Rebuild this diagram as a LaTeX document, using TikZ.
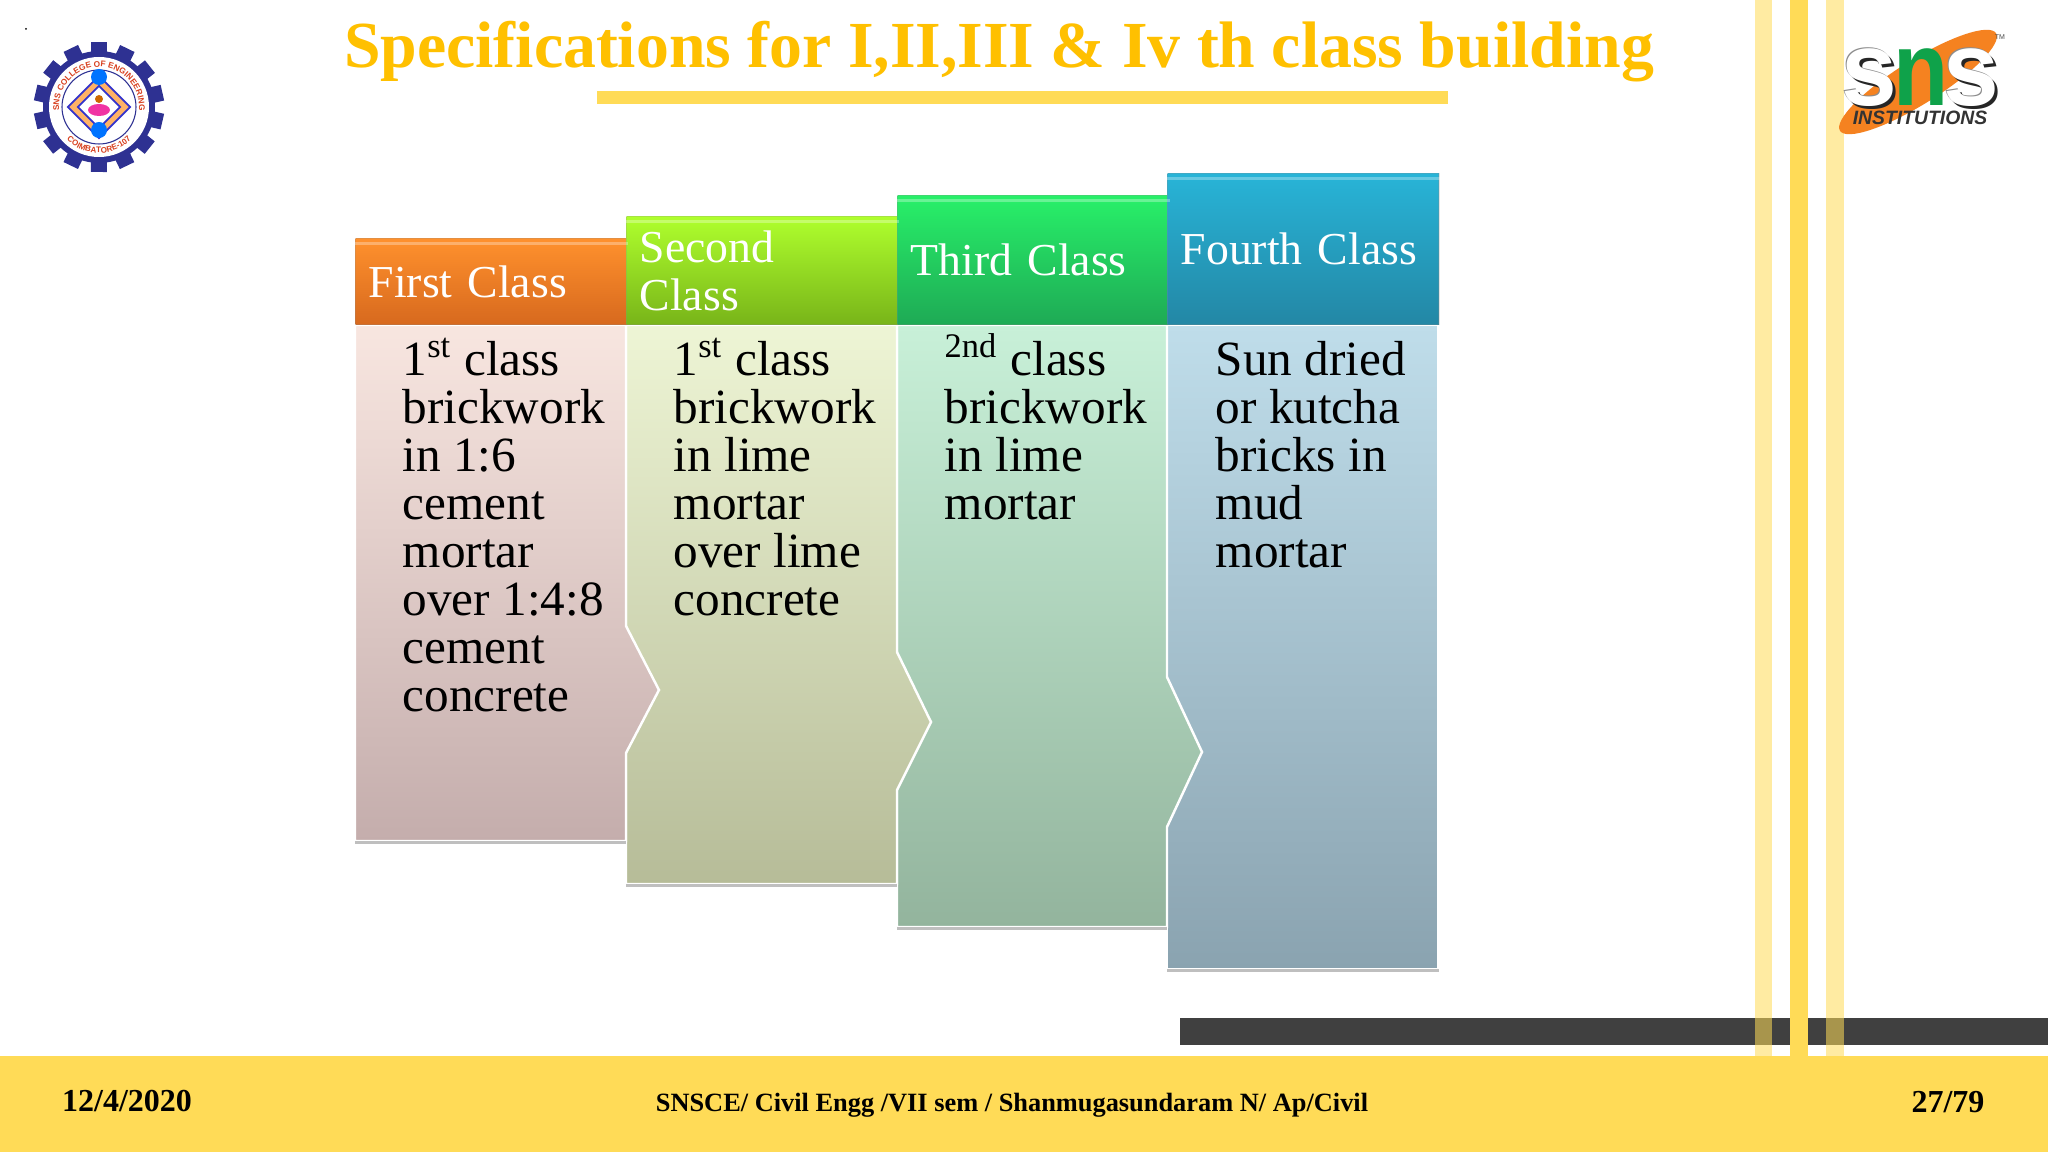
\documentclass[tikz,border=0pt]{standalone}
\usepackage{fontspec}
\usepackage{xcolor}
\usetikzlibrary{decorations.text}
\setmainfont{Liberation Serif}
\setsansfont{Liberation Sans}
\definecolor{slideyellow}{HTML}{FFDB57}
\definecolor{titlegold}{HTML}{FFC000}
\definecolor{gearblue}{HTML}{2E3192}
\definecolor{logored}{HTML}{D8401F}
\definecolor{snsorange}{HTML}{F58220}
\definecolor{snsgreen}{HTML}{0FA24A}
\newcommand{\bodyfont}{\fontsize{14pt}{13.65pt}\selectfont}
\newcommand{\headfont}{\fontsize{13pt}{13.6pt}\selectfont}
\newcommand{\ordinal}[1]{\smash{\textsuperscript{#1}}}

\begin{document}
\begin{tikzpicture}[x=0.01cm, y=-0.01cm,
    stripe/.style={fill=slideyellow, opacity=0.55},
    hdr/.style={anchor=north west, minimum width=2.71cm, text width=2.45cm,
                inner sep=0pt, inner xsep=0.13cm, align=left, text=white,
                font=\headfont, draw=white!55!black, draw opacity=0.25, line width=0.4pt},
    bodytxt/.style={anchor=north west, inner sep=0pt, align=left, font=\bodyfont, text=black,
                    execute at begin node=\rule{0pt}{11.5pt}},
    slab/.style={draw=white, line width=0.7pt, line join=miter},
    ledge/.style={fill=black!25},
    footer/.style={font=\fontsize{7.5pt}{8pt}\selectfont\bfseries, text=black},
    footnum/.style={font=\fontsize{9.1pt}{9pt}\selectfont\bfseries, text=black},
    snsletter/.style={anchor=base, font=\sffamily\bfseries\fontsize{30pt}{30pt}\selectfont, xscale=0.95, inner sep=0pt}]

    \useasboundingbox (0,0) rectangle (2048,1152);
    \fill[white] (0,0) rectangle (2048,1152);

    % --- Footer ---
    \fill[black!75] (1180,1018) rectangle (2048,1045);
    \fill[slideyellow] (0,1056) rectangle (2048,1152);
    \fill[stripe] (1755,0) rectangle (1772,1056);
    \fill[slideyellow] (1790,0) rectangle (1808,1056);
    \fill[stripe] (1826,0) rectangle (1844,1056);
    \node[footnum] (date) at (127,1101) {12/4/2020};
    \node[footer] (course) at (1012,1105) {SNSCE/ Civil Engg /VII sem / Shanmugasundaram N/ Ap/Civil};
    \node[footnum] (page) at (1948,1102) {27/79};

    % --- Title ---
    \node[font=\fontsize{18.7pt}{20pt}\selectfont\bfseries, text=titlegold] (title) at (999,52)
      {Specifications for I,II,III \& Iv th class building};
    \fill[slideyellow] (597,91) rectangle (1448,104);

    % --- Class bodies ---
    \shade[slab, top color={rgb,255:red,191;green,221;blue,234}, bottom color={rgb,255:red,138;green,163;blue,176}]
      (1167,325) -- (1438,325) -- (1438,969) -- (1167,969) -- cycle;
    \fill[ledge] (1167,969) rectangle (1439,972);
    \shade[slab, top color={rgb,255:red,200;green,240;blue,216}, bottom color={rgb,255:red,147;green,180;blue,157}]
      (897,325) -- (1167,325) -- (1167,677) -- (1202,752) -- (1167,827) -- (1167,927) -- (897,927) -- cycle;
    \fill[ledge] (897,927) rectangle (1167,930);
    \shade[slab, top color={rgb,255:red,238;green,245;blue,213}, bottom color={rgb,255:red,182;green,188;blue,152}]
      (626,325) -- (897,325) -- (897,652) -- (931,722) -- (897,790) -- (897,884) -- (626,884) -- cycle;
    \fill[ledge] (626,884) rectangle (897,887);
    \shade[slab, top color={rgb,255:red,248;green,230;blue,224}, bottom color={rgb,255:red,196;green,173;blue,172}]
      (355,325) -- (626,325) -- (626,626) -- (659,690) -- (626,753) -- (626,841) -- (355,841) -- cycle;
    \fill[ledge] (355,841) rectangle (626,844);

    % --- Class headers ---
    \node[hdr, minimum height=0.86cm, top color={rgb,255:red,255;green,145;blue,45}, bottom color={rgb,255:red,215;green,105;blue,30}] (first) at (355,238) {First Class};
    \node[hdr, minimum height=1.08cm, top color={rgb,255:red,175;green,255;blue,45}, bottom color={rgb,255:red,120;green,180;blue,25}] (second) at (626,216) {Second\\Class};
    \node[hdr, minimum height=1.29cm, top color={rgb,255:red,40;green,240;blue,105}, bottom color={rgb,255:red,30;green,170;blue,85}] (third) at (897,195) {Third Class};
    \node[hdr, minimum height=1.51cm, top color={rgb,255:red,40;green,180;blue,215}, bottom color={rgb,255:red,35;green,135;blue,165}] (fourth) at (1167,173) {Fourth Class};
    \foreach \n in {first,second,third,fourth} {
      \fill[white, opacity=0.3] ([yshift=-1pt]\n.north west) rectangle ([yshift=-2pt]\n.north east);
    }

    % --- Class texts ---
    \node[bodytxt] (firsttxt) at (402,341) {1\ordinal{st} class\\brickwork\\in 1:6\\cement\\mortar\\over 1:4:8\\cement\\concrete};
    \node[bodytxt] (secondtxt) at (673,341) {1\ordinal{st} class\\brickwork\\in lime\\mortar\\over lime\\concrete};
    \node[bodytxt] (thirdtxt) at (944,341) {\ordinal{2nd} class\\brickwork\\in lime\\mortar};
    \node[bodytxt] (fourthtxt) at (1215,341) {Sun dried\\or kutcha\\bricks in\\mud\\mortar};

    % --- College logo ---
    \fill[black] (26,29) circle[radius=1];
    \foreach \a in {0,25.7,...,340} {
      \fill[gearblue, rotate around={\a:(99,107)}] (91,42) rectangle (107,62);
    }
    \fill[gearblue] (99,107) circle[radius=56];
    \fill[white] (99,107) circle[radius=50];
    \draw[gearblue, line width=0.3pt] (99,107) circle[radius=37];
    \path[decorate, decoration={text along path, text align=center, text color=logored,
        text={|\sffamily\bfseries\fontsize{2.35pt}{3pt}\selectfont|SNS COLLEGE OF ENGINEERING}}]
      (99,107) ++(168:40) arc[start angle=168, end angle=372, radius=40];
    \path[decorate, decoration={text along path, text align=center, text color=logored,
        text={|\sffamily\bfseries\fontsize{2.3pt}{3pt}\selectfont|COIMBATORE-107}}]
      (99,107) ++(140:46) arc[start angle=140, end angle=40, radius=46];
    \fill[orange!60, draw=blue!60!gray, line width=0.5pt, rotate around={45:(99,107)}] (77,85) rectangle (121,129);
    \fill[white, draw=blue!60!gray, line width=0.5pt, rotate around={45:(99,107)}] (84,92) rectangle (114,122);
    \fill[blue!55!cyan] (99,77) circle[radius=8];
    \fill[blue!55!cyan] (99,130) circle[radius=8];
    \fill[magenta!80] (99,110) ellipse[x radius=11, y radius=6];
    \fill[orange!80!black] (99,99) circle[radius=4];

    % --- SNS logo ---
    \fill[snsorange, rotate around={32:(1918,82)}] (1918,82) ellipse[x radius=92, y radius=22];
    \node[snsletter, text=black!85] (sshadowa) at (1872,109) {s};
    \node[snsletter, text=black!45] (sedgea) at (1868,105) {s};
    \node[snsletter, text=white] (sa) at (1869,106) {s};
    \node[snsletter, text=black!85] (sshadowb) at (1974,109) {s};
    \node[snsletter, text=black!45] (sedgeb) at (1970,105) {s};
    \node[snsletter, text=white] (sb) at (1971,106) {s};
    \node[snsletter, text=snsgreen, xscale=0.9] (nn) at (1921,106) {n};
    \node[font=\sffamily\bfseries\itshape\fontsize{5.5pt}{6pt}\selectfont, text=black!80, inner sep=0pt] (inst) at (1920,118) {INSTITUTIONS};
    \node[font=\sffamily\fontsize{2pt}{3pt}\selectfont, text=black!70, inner sep=0pt] (tm) at (2000,37) {TM};
\end{tikzpicture}
\end{document}
